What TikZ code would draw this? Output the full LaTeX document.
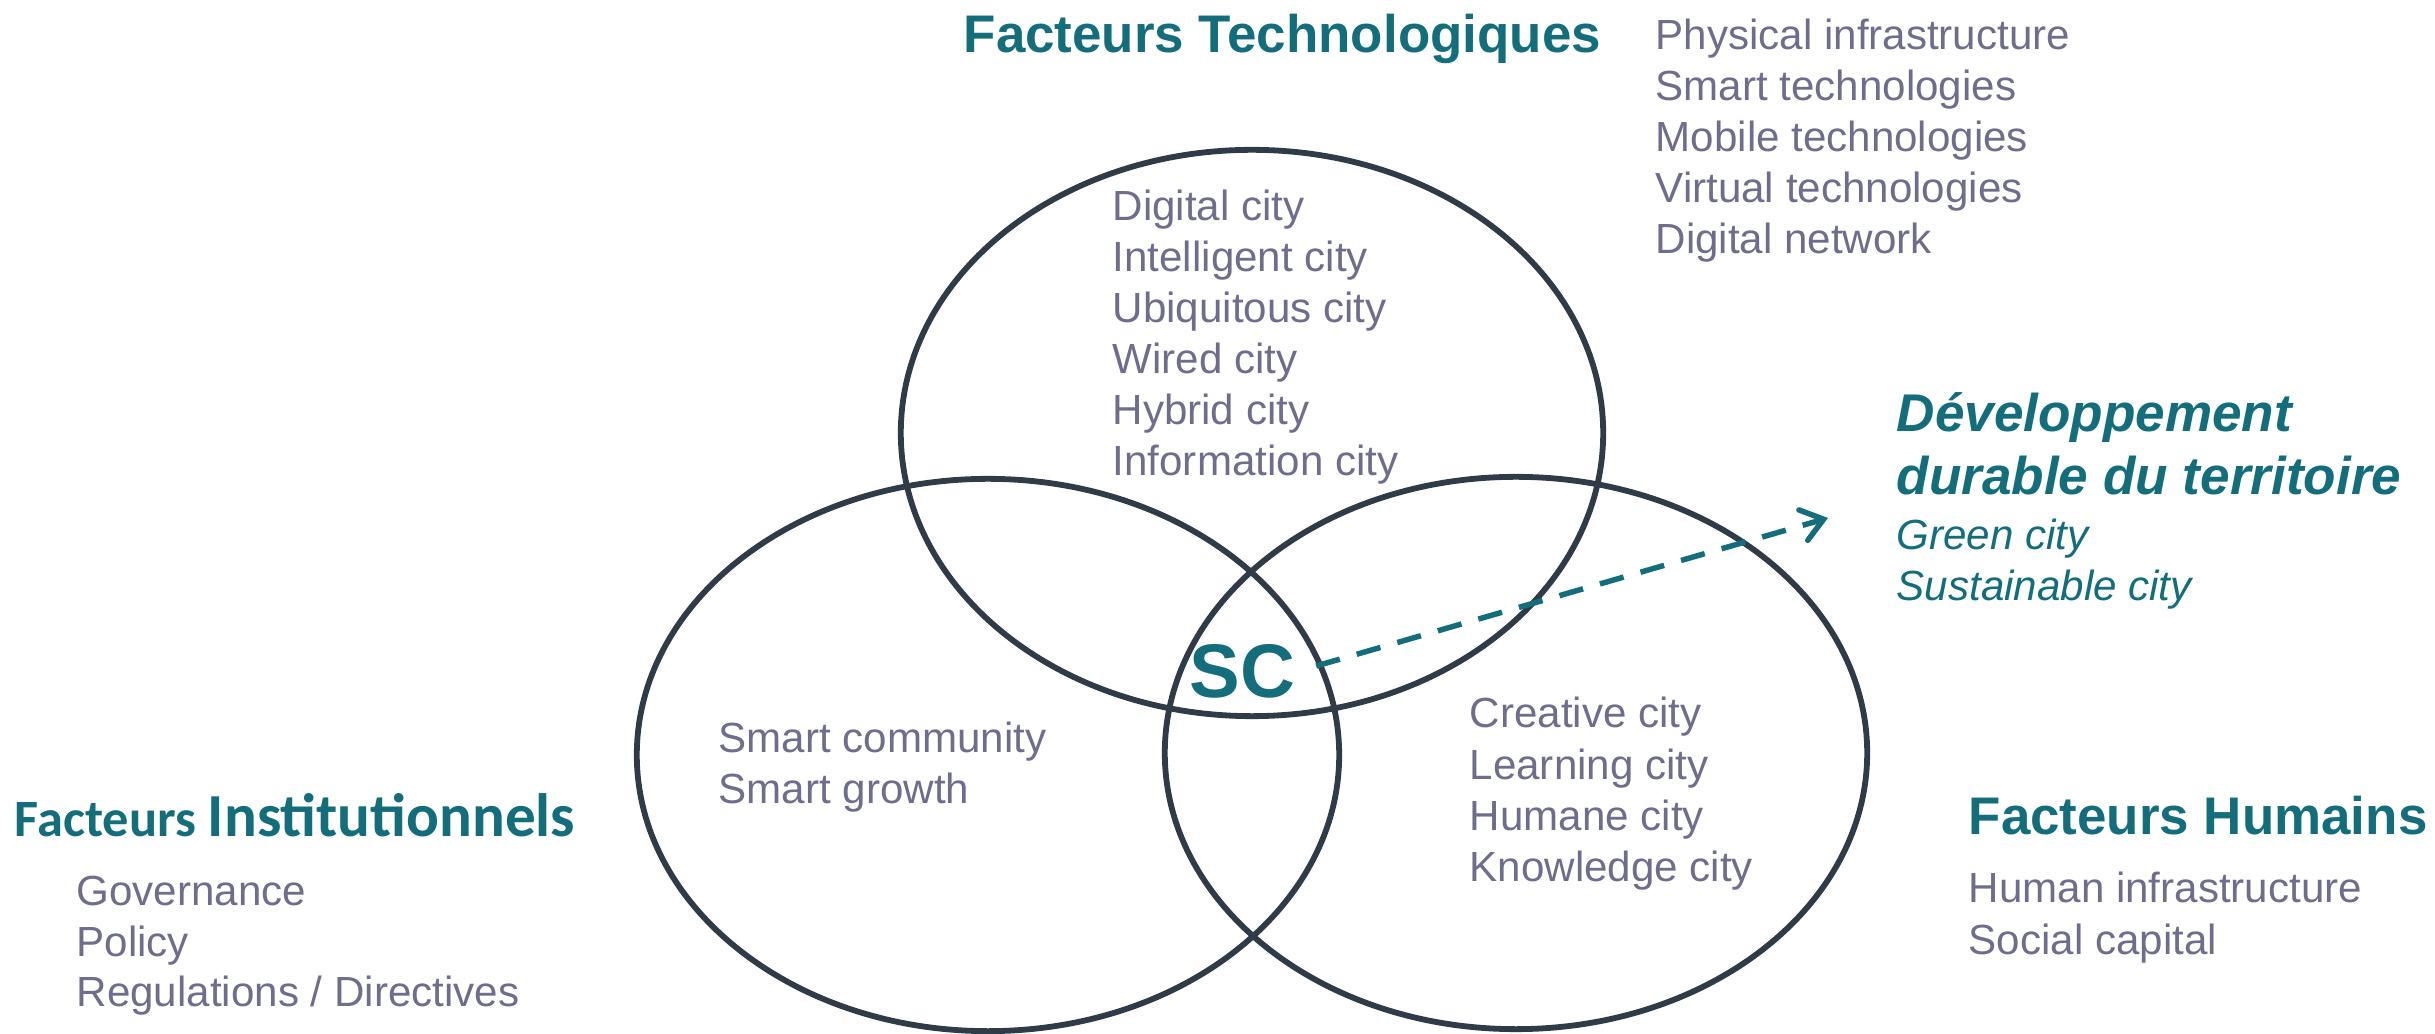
\documentclass[tikz,border=0pt]{standalone}
\usepackage{fontspec}
\setmainfont{Liberation Sans}
\newfontfamily\calib{Carlito}
\usetikzlibrary{arrows.meta}
\definecolor{tealc}{HTML}{136D7B}
\definecolor{grayc}{HTML}{6E6D8C}
\definecolor{ringc}{HTML}{2F3B46}
\tikzset{
  ring/.style={draw=ringc, line width=1.65pt},
  item/.style={anchor=base west, inner sep=0pt, text=grayc, font=\fontsize{11.98}{14}\selectfont},
  ttl/.style={anchor=base west, inner sep=0pt, text=tealc, font=\fontsize{15.05}{18}\selectfont\bfseries},
  devt/.style={anchor=base west, inner sep=0pt, text=tealc, font=\fontsize{15.1}{18}\selectfont\bfseries\itshape},
  devi/.style={anchor=base west, inner sep=0pt, text=tealc, font=\fontsize{11.98}{14}\selectfont\itshape},
}
\begin{document}
\begin{tikzpicture}[x=0.01cm, y=-0.01cm]
\useasboundingbox (0,0) rectangle (2435,1034);
% circles
\draw[ring] (1252,433) ellipse [x radius=3.51cm, y radius=2.83cm];
\draw[ring] (988,755) ellipse [x radius=3.51cm, y radius=2.76cm];
\draw[ring] (1516,753) ellipse [x radius=3.51cm, y radius=2.76cm];
% technological
\node[ttl] (tt) at (963,53) {Facteurs Technologiques};
\foreach \t [count=\i from 0] in {Physical infrastructure, Smart technologies, Mobile technologies, Virtual technologies, Digital network}
  \node[item] (tl\i) at (1655,50+50.8*\i) {\t};
\foreach \t [count=\i from 0] in {Digital city, Intelligent city, Ubiquitous city, Wired city, Hybrid city, Information city}
  \node[item] (tc\i) at (1112,221+51*\i) {\t};
% institutional
\node[anchor=base west, inner sep=0pt, text=tealc] (it) at (14,837) {\calib\bfseries\fontsize{14.9}{17}\selectfont Facteurs \fontsize{17.4}{20}\selectfont Institutionnels};
\foreach \t [count=\i from 0] in {Governance, Policy, Regulations / Directives}
  \node[item] (il\i) at (76,906+50.5*\i) {\t};
\foreach \t [count=\i from 0] in {Smart community, Smart growth}
  \node[item] (ic\i) at (718,753+50.5*\i) {\t};
% human
\node[ttl] (ht) at (1968,835) {Facteurs Humains};
\foreach \t [count=\i from 0] in {Human infrastructure, Social capital}
  \node[item] (hl\i) at (1968,903+52*\i) {\t};
\foreach \t [count=\i from 0] in {Creative city, Learning city, Humane city, Knowledge city}
  \node[item] (hc\i) at (1469,728+51.3*\i) {\t};
% sustainable development
\node[devt] (d1) at (1896,432) {Développement};
\node[devt] (d2) at (1896,495) {durable du territoire};
\node[devi] (d3) at (1896,550) {Green city};
\node[devi] (d4) at (1896,601) {Sustainable city};
% SC
\node[anchor=base west, inner sep=0pt, text=tealc, font=\fontsize{21.6}{24}\selectfont\bfseries] (sc) at (1189,698) {SC};
\coordinate (tip) at (1828,518);
\draw[draw=tealc, line width=1.56pt, dash pattern=on 7pt off 5pt,
  -{Straight Barb[length=6pt,width=9pt,line cap=round]}, shorten <=6pt] (sc.east) -- (tip);
\end{tikzpicture}
\end{document}
